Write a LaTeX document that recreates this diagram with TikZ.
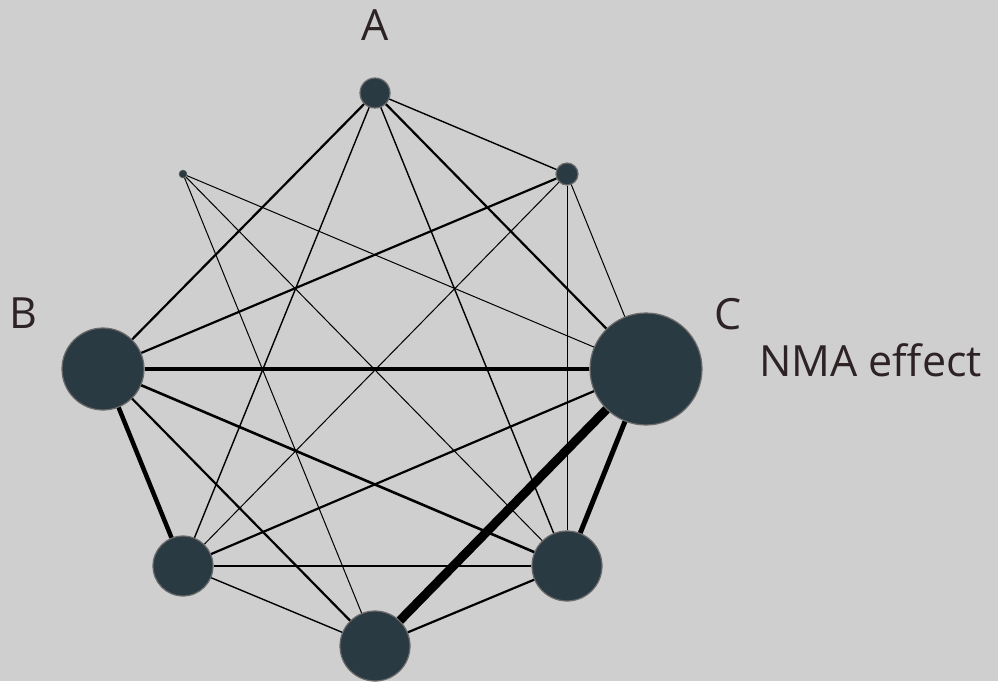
\documentclass[tikz,border=0pt]{standalone}
\usepackage{fontspec}
\setmainfont{Open Sans}
\usepackage{tikz}
\definecolor{canvas}{HTML}{CFCFCF}
\definecolor{nodefill}{HTML}{2A3A42}
\definecolor{nodeedge}{HTML}{6A6A6A}
\definecolor{labelcol}{HTML}{2D2325}
\tikzstyle{trt} = [circle, fill=nodefill, draw=nodeedge, line width=1.2pt, inner sep=0pt]
\tikzstyle{lab} = [text=labelcol, font=\fontsize{43}{50}\selectfont, inner sep=0pt, anchor=base]
\tikzstyle{wa} = [line width=1pt]
\tikzstyle{wb} = [line width=1.4pt]
\tikzstyle{wc} = [line width=2.2pt]
\tikzstyle{wd} = [line width=4.5pt]
\tikzstyle{we} = [line width=9pt]

\begin{document}
\begin{tikzpicture}[x=1pt, y=-1pt]
    \fill[canvas] (0,0) rectangle (998,681);
    \useasboundingbox (0,0) rectangle (998,681);

    \node (a) [trt, minimum size=30pt] at (375,93) {};
    \node (p1) [trt, minimum size=8pt, line width=0.5pt] at (183,174) {};
    \node (p2) [trt, minimum size=22pt] at (567,174) {};
    \node (b) [trt, minimum size=82pt] at (103,369) {};
    \node (c) [trt, minimum size=112pt] at (646,369) {};
    \node (bl) [trt, minimum size=60pt] at (183,566) {};
    \node (br) [trt, minimum size=70pt] at (567,566) {};
    \node (bot) [trt, minimum size=70pt] at (375,646) {};

    %edges from the top
    \draw [wc] (a) -- (b);
    \draw [wb] (a) -- (bl);
    \draw [wb] (a) -- (br);
    \draw [wc] (a) -- (c);
    \draw [wb] (a) -- (p2);

    \draw [wa] (p1) -- (bot);
    \draw [wa] (p1) -- (br);
    \draw [wa] (p1) -- (c);

    \draw [wc] (p2) -- (b);
    \draw [wa] (p2) -- (bl);
    \draw [wa] (p2) -- (br);
    \draw [wa] (p2) -- (c);

    %edges round the pentagon
    \draw [wd] (b) -- (c);
    \draw [wd] (b) -- (bl);
    \draw [line width=2.6pt] (b) -- (br);
    \draw [wc] (b) -- (bot);
    \draw [wc] (c) -- (bl);
    \draw [we] (c) -- (bot);
    \draw [line width=5pt] (c) -- (br);
    \draw [line width=2.6pt] (bl) -- (br);
    \draw [wb] (bl) -- (bot);
    \draw [wc] (br) -- (bot);

    \node (a_text) [lab] at (375.5,40) {A};
    \node (b_text) [lab] at (23.5,328) {B};
    \node (c_text) [lab] at (728.5,329) {C};
    \node (nma_text) [lab, anchor=base west] at (759,376) {NMA effect};

\end{tikzpicture}
\end{document}
